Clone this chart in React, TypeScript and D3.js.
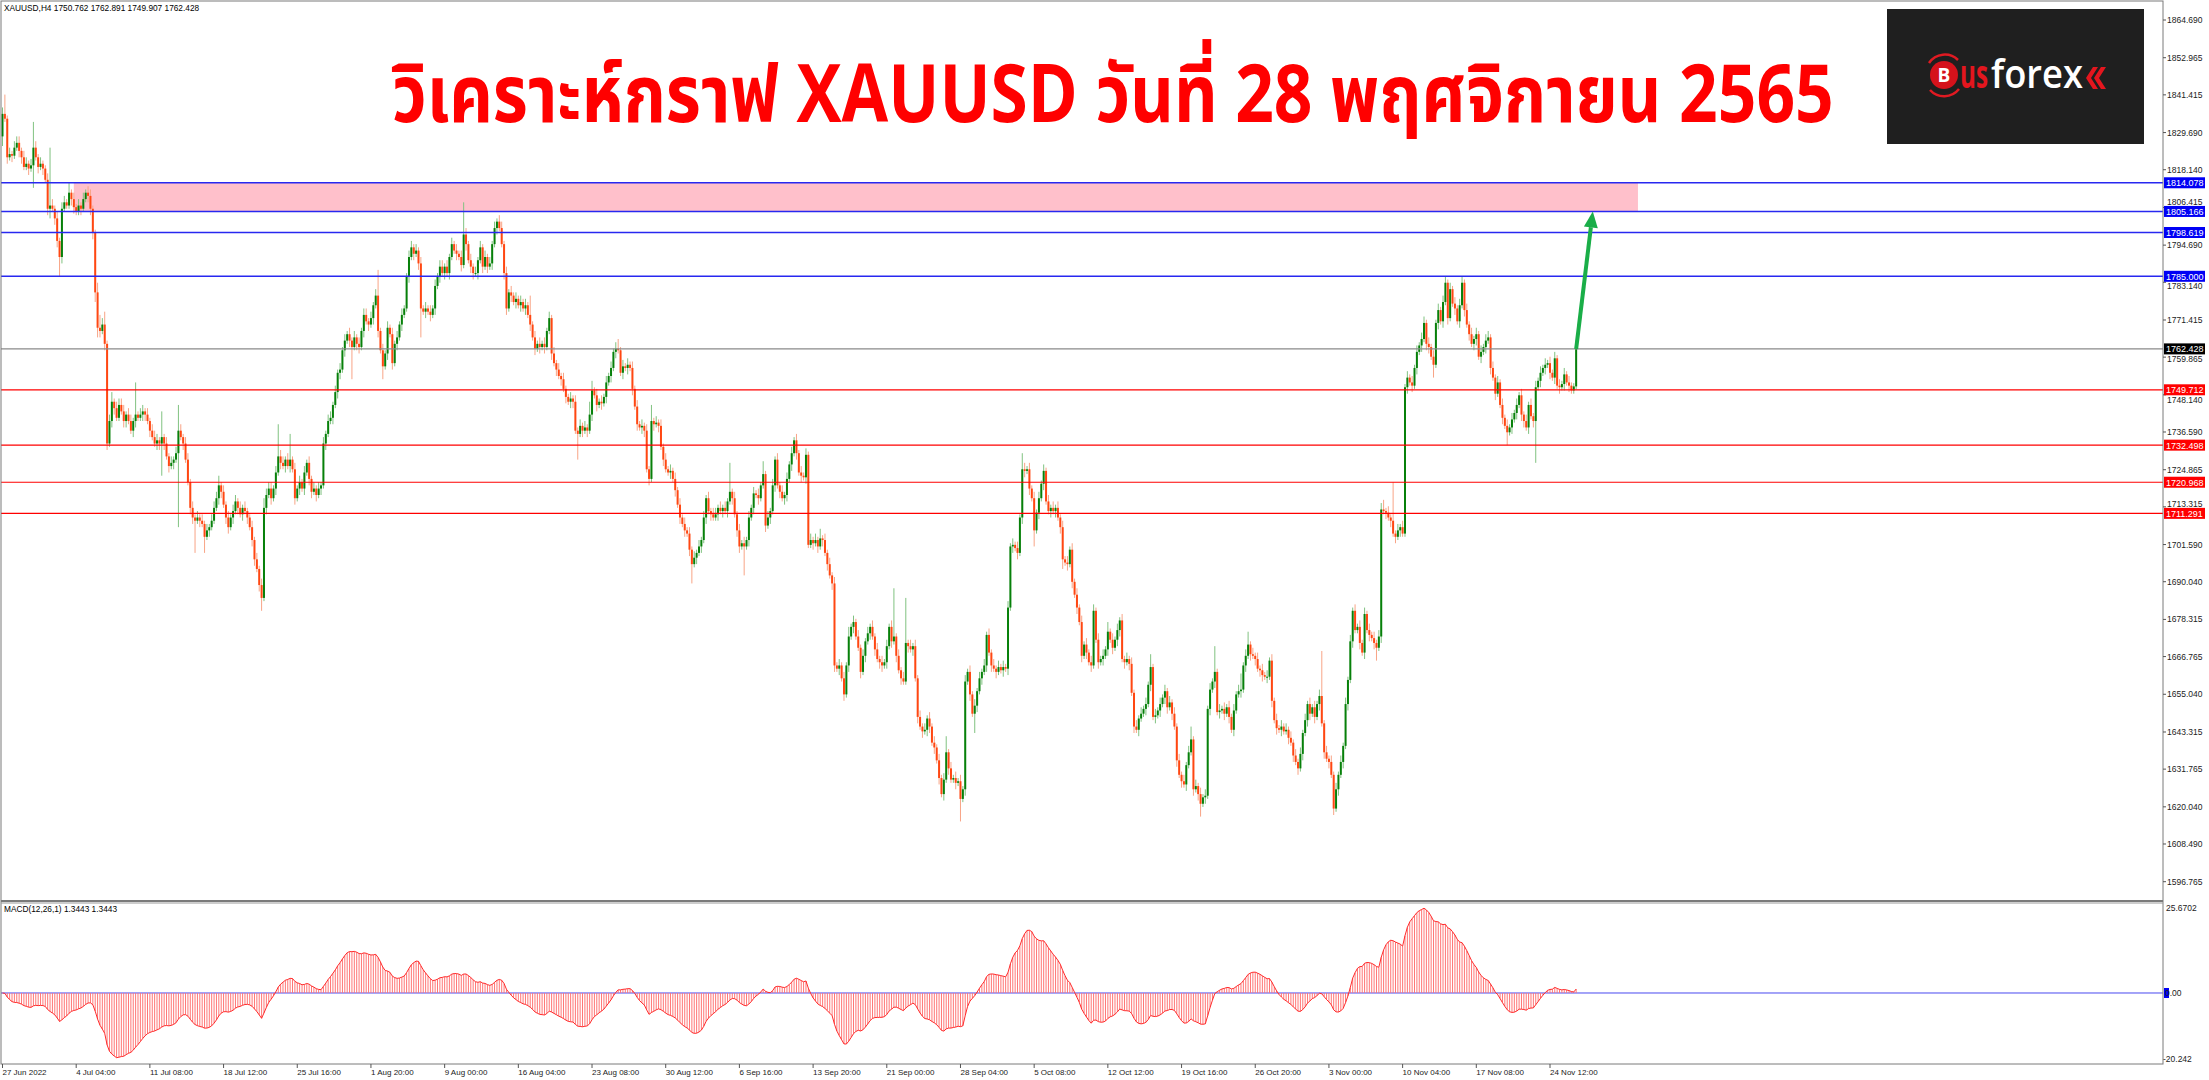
import React, { useMemo, useRef, useState, useLayoutEffect } from "react";
import * as d3 from "d3";

// ---------- DATA ----------
const symbolName = "XAUUSD,H4";
const firstOpen = 1828.5;
const closes = [
  1835.5, 1834, 1822, 1823, 1822.5, 1825, 1826.5, 1824, 1822, 1819,
  1820, 1818.5, 1819.5, 1825, 1822, 1819, 1820, 1818.5, 1815, 1806,
  1807, 1806, 1803, 1796, 1791, 1806, 1808, 1807, 1811, 1809,
  1806.5, 1805, 1807, 1806, 1809, 1811, 1810, 1806, 1798.5, 1780,
  1769, 1768, 1770, 1764, 1733, 1740, 1746, 1744, 1741, 1745,
  1743, 1740, 1742, 1740, 1737, 1740, 1742, 1741, 1742, 1743,
  1742, 1740, 1737, 1735, 1733, 1734, 1733, 1735, 1733, 1729,
  1726, 1727, 1728, 1730, 1737, 1735, 1733, 1728, 1721, 1713,
  1710, 1709, 1710, 1709, 1708, 1704, 1706, 1707, 1709, 1713,
  1716, 1720, 1718, 1714, 1710, 1707, 1710, 1712, 1715, 1713,
  1711, 1713, 1712, 1710, 1707, 1703, 1697, 1694, 1689, 1685,
  1713, 1717, 1719, 1716, 1719, 1724, 1729, 1727, 1726, 1728,
  1726, 1728, 1725, 1716, 1719, 1721, 1719, 1724, 1727, 1722,
  1718, 1719, 1717, 1719, 1720, 1733, 1736, 1740, 1741, 1745,
  1749, 1755, 1756, 1762, 1765, 1767, 1765, 1763, 1766, 1764,
  1763, 1768, 1773, 1771, 1770, 1772, 1776, 1779, 1768, 1762,
  1757, 1761, 1769, 1767, 1758, 1764, 1766, 1770, 1773, 1775,
  1785, 1791, 1794, 1792, 1793, 1789, 1775, 1774, 1775, 1774,
  1773, 1775, 1782, 1785, 1788, 1786, 1788, 1786, 1791, 1795,
  1793, 1792, 1791, 1788.5, 1798, 1795, 1790, 1788, 1786, 1786,
  1790, 1794, 1788, 1791, 1788, 1789, 1795, 1800, 1802, 1800,
  1795, 1786, 1775, 1780, 1779, 1777, 1778, 1776, 1777, 1775,
  1776, 1773, 1770, 1766, 1762.5, 1764, 1763, 1764, 1763, 1768,
  1772, 1761, 1758, 1756, 1754, 1753, 1750, 1747.5, 1746, 1747,
  1746, 1737, 1736, 1738.5, 1737, 1738, 1737, 1742, 1749.5, 1748,
  1745, 1746, 1745.5, 1747.5, 1752, 1754, 1756.5, 1761.5, 1762.5, 1762,
  1755, 1757, 1756.5, 1757.5, 1756.5, 1750, 1744.5, 1739, 1738, 1738.5,
  1737, 1725, 1722, 1740, 1739, 1739.5, 1738.5, 1732, 1728, 1725,
  1724, 1724.5, 1722, 1718.5, 1714, 1710, 1708, 1706, 1705, 1700,
  1695.5, 1697.5, 1699, 1701, 1703, 1710, 1716, 1712, 1711, 1710,
  1711, 1713, 1712, 1713, 1712, 1715, 1718, 1716, 1711, 1706,
  1701, 1702, 1701, 1703, 1710, 1713, 1717.5, 1717, 1716, 1720,
  1723.5, 1707.5, 1710, 1712, 1720, 1728, 1720, 1718, 1716, 1717,
  1722, 1726.5, 1730, 1734, 1730, 1724, 1723, 1722.5, 1729.5, 1701.5,
  1703, 1702, 1703, 1701, 1703.5, 1703, 1699, 1695.5, 1692, 1689.5,
  1664, 1663, 1664, 1660, 1655, 1664, 1673, 1676, 1677.5, 1673,
  1669.5, 1662, 1667, 1671.5, 1674, 1676, 1673, 1669, 1666, 1665,
  1664, 1665, 1670, 1676, 1671.5, 1673, 1667, 1662.5, 1660, 1659,
  1671, 1670, 1669, 1670, 1660, 1648, 1645, 1643.5, 1644, 1647.5,
  1645, 1640, 1638.5, 1634.5, 1629, 1624, 1628.5, 1637, 1632, 1628.5,
  1629, 1627.5, 1628, 1622.5, 1625.5, 1659, 1662, 1655, 1649, 1651.5,
  1656, 1660, 1662, 1664, 1673.5, 1668, 1664, 1663, 1662, 1663.5,
  1662.5, 1663.5, 1663, 1682, 1701, 1701.5, 1700.5, 1699, 1710, 1725,
  1724.5, 1725, 1719, 1716, 1706, 1711.5, 1716, 1720.5, 1724.5, 1715,
  1712, 1713, 1712, 1713, 1710, 1707, 1697, 1696, 1695.5, 1700,
  1690, 1686, 1682, 1677.5, 1667, 1670.5, 1668, 1665, 1664, 1681,
  1672, 1665, 1666, 1667, 1669, 1674.5, 1672, 1669.5, 1672, 1675,
  1678, 1666, 1665, 1666, 1664.5, 1655.5, 1645, 1644, 1647.5, 1649,
  1650.5, 1652, 1658, 1663.5, 1648, 1648.5, 1650, 1652, 1654, 1656,
  1651, 1652.5, 1649, 1645, 1634.5, 1630, 1628, 1627, 1633, 1637,
  1641, 1625.5, 1626.5, 1624, 1621, 1623, 1623.5, 1650.5, 1656.5, 1659,
  1662, 1649.5, 1650, 1650.5, 1649, 1651, 1648, 1644, 1650, 1655,
  1656, 1656.5, 1664, 1667, 1670.5, 1667.5, 1667, 1666, 1663, 1662.5,
  1661, 1660.5, 1660.5, 1665.5, 1653, 1647, 1644.5, 1644, 1645, 1643.5,
  1644, 1641.5, 1640, 1636, 1634, 1632, 1636.5, 1643, 1647, 1652,
  1649, 1651, 1648, 1652, 1654.5, 1646, 1637, 1635, 1634, 1630,
  1619.5, 1625.5, 1630, 1634, 1639, 1652, 1659.5, 1671.5, 1681, 1675,
  1676, 1671, 1668, 1680, 1675, 1673.5, 1672.5, 1671, 1669.5, 1673,
  1712.5, 1712, 1711.5, 1710, 1709, 1705, 1704, 1706, 1707, 1705,
  1750.5, 1753.5, 1752, 1751, 1756.5, 1761.5, 1763.5, 1765.5, 1770.5, 1764,
  1763, 1760, 1757.5, 1770.5, 1774.5, 1771, 1777, 1783, 1772, 1781,
  1776.5, 1775, 1771, 1776, 1783, 1774.5, 1770, 1767, 1764, 1765.5,
  1767, 1760, 1761.5, 1763, 1765, 1766, 1756.5, 1753.5, 1748.5, 1752,
  1745, 1741, 1738.5, 1736.5, 1738, 1740.5, 1742.5, 1745, 1748, 1742,
  1740, 1738, 1745, 1741.5, 1740, 1750.5, 1752.5, 1755, 1756.5, 1757.5,
  1758, 1755, 1753.5, 1759.5, 1751, 1750.5, 1751.5, 1754.5, 1752, 1751,
  1749.5, 1750.762, 1762.428,
];
const upperWicks = [
  2,6,1,2,1,2,2,2,1,2, 2,1,2,8,2,1,2,1,1,2, 18,2,1,2,1,2,2,1,3,1, 2,1,2,1,2,1,2,2,1,1,
  3,4,2,4,1,2,3,1,2,2, 2,2,1,2,2,1,10,1,2,2, 1,2,1,2,2,2,1,8,1,2, 1,2,1,2,8,2,1,2,2,1,
  2,1,2,1,2,1,2,1,2,2, 2,3,1,2,1,2,1,2,2,1, 2,1,2,1,1,2,1,2,1,2, 3,2,2,2,1,2,10,2,2,1,
  2,8,1,2,1,2,1,2,1,2, 1,2,1,2,1,2,1,2,2,1, 2,1,2,1,2,1,2,1,2,1, 2,1,2,2,1,2,1,2,8,1,
  2,1,2,1,2,1,2,1,2,1, 1,2,2,1,2,1,2,1,2,1, 2,1,2,1,2,2,1,2,1,2, 1,2,1,2,10,2,1,2,1,2,
  1,2,1,2,1,2,1,2,1,2, 2,1,2,1,2,1,2,1,2,1, 2,1,6,1,2,1,2,1,2,1, 2,1,2,1,2,1,2,1,1,2,
  1,2,1,2,1,2,1,4,3,1, 2,1,2,1,2,1,2,1,2,3, 1,2,1,2,1,2,1,2,1,2, 1,2,1,5,1,2,1,2,1,2,
  1,2,1,2,1,2,1,2,1,2, 1,2,1,2,1,2,1,2,1,2, 2,1,2,1,2,1,9,1,2,1, 2,1,2,1,2,1,2,1,2,1,
  4,1,2,1,2,1,2,1,2,1, 2,1,2,1,2,1,2,1,2,1, 2,1,2,1,3,1,2,1,2,1, 2,1,2,1,2,1,3,1,2,1,
  2,1,2,1,2,1,2,1,2,1, 2,1,2,1,2,15,1,2,1,2, 14,1,2,1,2,1,2,1,2,1, 2,1,2,1,2,1,2,5,1,2,
  1,2,1,2,1,2,1,2,1,2, 1,2,1,2,1,2,1,2,1,2, 1,2,1,2,1,2,1,2,1,5, 2,1,2,1,2,1,2,1,2,1,
  2,1,2,1,2,1,2,1,2,1, 2,1,2,1,2,1,2,1,2,2, 1,2,1,2,1,3,1,2,1,2, 1,2,1,2,1,2,1,2,1,2,
  1,2,1,4,1,2,1,2,1,2, 1,2,1,2,1,2,1,2,1,2, 4,1,2,1,2,1,2,1,2,1, 8,1,2,1,2,1,2,1,2,1,
  2,5,1,2,4,1,2,1,2,1, 2,1,2,1,2,1,2,1,2,1, 2,1,2,1,2,1,2,1,2,1, 2,1,2,1,2,14,1,2,1,2,
  1,2,1,2,1,2,1,2,1,2, 1,2,1,2,1,2,1,2,1,2, 2,3,1,2,1,12,1,2,1,2, 1,2,1,2,1,2,1,2,2,1,
  2,1,2,1,2,1,2,2,1,2, 1,2,1,2,2,1,2,1,2,1, 2,1,2,1,2,2,1,2,1,2, 1,2,1,2,1,2,1,2,1,2,
  1,2,1,2,1,2,1,2,1,2, 1,2,1,2,1,2,1,2,1,2, 1,1,0.463,
];
const lowerWicks = [
  3,1,2,1,2,1,1,2,2,1, 1,2,1,7,1,2,1,2,1,2, 3,1,2,2,6,2,1,1,1,2, 2,1,1,2,1,1,2,2,2,3,
  3,2,1,2,2,1,2,2,1,1, 1,2,2,1,1,2,2,1,1,2, 2,1,2,1,1,2,2,10,2,1, 2,1,2,1,23,1,2,1,1,2,
  2,10,1,2,1,5,1,2,1,1, 1,2,2,1,2,2,1,2,1,2, 1,2,1,2,1,2,2,1,2,4, 1,2,1,2,1,2,1,2,1,2,
  1,2,1,2,1,2,1,2,1,2, 2,1,2,1,2,1,2,1,1,2, 1,2,2,1,2,1,2,10,1,2, 2,1,2,1,2,1,2,1,2,1,
  4,1,2,1,2,1,2,1,2,1, 1,2,1,2,1,2,9,1,2,1, 2,1,2,1,2,1,2,1,2,1, 1,2,1,2,1,2,1,2,2,1,
  2,1,2,1,2,1,2,1,2,1, 1,2,2,1,2,1,2,1,2,1, 2,1,2,1,2,1,2,1,2,1, 1,2,1,2,1,2,1,2,1,2,
  2,1,8,1,2,1,2,1,2,1, 2,1,2,1,2,1,2,1,2,1, 1,2,1,2,1,2,1,2,1,2, 2,1,2,1,2,1,2,1,2,1,
  1,2,1,2,1,2,1,2,1,2, 6,1,2,1,2,1,2,1,2,1, 1,2,1,2,1,2,1,2,1,2, 2,1,9,1,2,1,2,1,2,1,
  1,2,1,2,1,2,1,2,1,2, 2,1,2,1,2,1,2,1,2,1, 1,2,1,2,1,2,1,2,1,2, 2,1,2,1,2,1,2,1,2,1,
  1,2,1,2,1,2,1,2,1,2, 2,1,2,1,2,1,2,1,2,1, 1,2,1,2,1,2,1,2,1,2, 2,1,2,1,2,1,2,1,2,1,
  1,2,1,7,1,2,1,2,1,6, 2,1,2,1,2,1,2,1,2,1, 1,2,1,2,1,2,1,2,1,2, 2,1,2,1,5,1,2,1,2,1,
  1,2,1,2,1,2,3,1,2,1, 2,1,2,1,2,1,2,1,2,1, 1,2,1,2,1,2,1,2,1,2, 2,1,2,1,2,1,2,1,2,1,
  1,2,1,2,1,2,1,2,1,2, 2,1,2,1,2,1,2,1,2,1, 1,2,1,2,4,1,2,1,2,1, 2,1,2,1,2,1,2,1,2,1,
  1,2,1,2,1,2,1,2,1,2, 2,1,2,1,2,1,2,1,2,1, 1,2,1,2,1,2,1,2,1,2, 2,1,2,1,2,1,2,1,2,1,
  2,1,2,1,2,1,2,1,2,1, 1,2,1,2,1,2,1,2,4,1, 2,1,2,1,2,1,2,1,2,1, 1,2,1,2,1,2,1,2,1,2,
  2,1,4,1,2,1,2,1,2,1, 1,2,1,2,1,2,1,2,1,2, 2,1,2,1,2,1,2,1,2,1, 1,2,1,4,1,2,1,2,1,2,
  2,1,2,1,2,13,1,2,1,2, 1,2,1,2,1,2,1,2,1,2, 1,1,0.855,
];

const timeLabels = [
  "27 Jun 2022", "4 Jul 04:00", "11 Jul 08:00", "18 Jul 12:00", "25 Jul 16:00",
  "1 Aug 20:00", "9 Aug 00:00", "16 Aug 04:00", "23 Aug 08:00", "30 Aug 12:00",
  "6 Sep 16:00", "13 Sep 20:00", "21 Sep 00:00", "28 Sep 04:00", "5 Oct 08:00",
  "12 Oct 12:00", "19 Oct 16:00", "26 Oct 20:00", "3 Nov 00:00", "10 Nov 04:00",
  "17 Nov 08:00", "24 Nov 12:00",
];
const barsPerTimeLabel = 31;

const priceTicks = [
  1864.690, 1852.965, 1841.415, 1829.690, 1818.140, 1806.415, 1794.690, 1783.140,
  1771.415, 1759.865, 1748.140, 1736.590, 1724.865, 1713.315, 1701.590, 1690.040,
  1678.315, 1666.765, 1655.040, 1643.315, 1631.765, 1620.040, 1608.490, 1596.765,
];
const blueLevels = [1814.078, 1805.166, 1798.619, 1785.0];
const redLevels = [1749.712, 1732.498, 1720.968, 1711.291];
const bidLevel = 1762.428;
const zoneLow = 1805.166;
const zoneHigh = 1814.078;
const zoneStartBar = 30;
const zoneEndBar = 688;
const arrowEndBar = 669;
const arrowEndPrice = 1805.166;
const macdTop = 25.6702;
const macdBottom = -20.242;
const macdLabel = "MACD(12,26,1) 1.3443 1.3443";
const titleText = "วิเคราะห์กราฟ XAUUSD วันที่ 28 พฤศจิกายน 2565";

// ---------- helpers ----------
function ema(values: number[], n: number) {
  const k = 2 / (n + 1);
  const out: number[] = [];
  let prev = values[0];
  values.forEach((v, i) => {
    prev = i === 0 ? v : v * k + prev * (1 - k);
    out.push(prev);
  });
  return out;
}

// Text squeezed horizontally (via transform) to a target width.
function FitText(props: any) {
  const { x, y, width, children, ...rest } = props;
  const ref = useRef<SVGTextElement>(null);
  const [s, setS] = useState(1);
  useLayoutEffect(() => {
    const el = ref.current;
    if (el) {
      const len = el.getComputedTextLength();
      if (len > 0) setS(width / len);
    }
  }, [width]);
  return (
    <text ref={ref} x={x} y={y} transform={`translate(${x * (1 - s)},0) scale(${s},1)`} {...rest}>
      {children}
    </text>
  );
}

const AXIS_FONT = "'Liberation Sans', Arial, sans-serif";

export default function App() {
  const W = 2209;
  const H = 1080;
  const plotRight = 2163;
  const plotLeft = 1;
  const priceBottom = 901;
  const macdTopY = 903;
  const macdBottomY = 1064;

  const x = d3.scaleLinear().domain([0, 651]).range([2.5, 1550]);
  const y = d3.scaleLinear().domain([1596.765, 1864.69]).range([881.7, 20]);
  const ym = d3.scaleLinear().domain([macdBottom, macdTop]).range([1063, 904.2]);

  const candles = useMemo(
    () =>
      closes.map((c, i) => {
        const o = i === 0 ? firstOpen : closes[i - 1];
        const hi = Math.max(o, c) + upperWicks[i];
        const lo = Math.min(o, c) - lowerWicks[i];
        return { i, o, c, hi, lo };
      }),
    []
  );

  const macd = useMemo(() => {
    const e12 = ema(closes, 12);
    const e26 = ema(closes, 26);
    return e12.map((v, i) => v - e26[i]);
  }, []);

  const last = candles[candles.length - 1];
  const header = `${symbolName}  ${last.o.toFixed(3)} ${last.hi.toFixed(3)} ${last.lo.toFixed(3)} ${last.c.toFixed(3)}`;

  const macdLine = d3
    .line<number>()
    .x((_, i) => x(i))
    .y((v) => ym(v))(macd) as string;

  const ax0 = x(last.i);
  const ay0 = y(last.c);
  const ax1 = x(arrowEndBar);
  const ay1 = y(arrowEndPrice);
  const ang = Math.atan2(ay1 - ay0, ax1 - ax0);
  const headLen = 16;
  const headW = 7;
  const bx = ax1 - headLen * Math.cos(ang);
  const by = ay1 - headLen * Math.sin(ang);
  const px = -Math.sin(ang);
  const py = Math.cos(ang);

  // level label boxes occupy +-5.5px around their level; tick texts are ~8px tall
  const boxHalf = 5.5;
  const textHalf = 4.3;
  const levelYs = [...blueLevels, ...redLevels, bidLevel].map((v) => y(v));
  const tickTextY = (v: number) => {
    let cy = y(v);
    levelYs.forEach((ly) => {
      if (Math.abs(cy - ly) < boxHalf + textHalf) {
        cy = cy < ly ? ly - boxHalf - textHalf : ly + boxHalf + textHalf;
      }
    });
    return cy;
  };

  const levelLabel = (v: number, bg: string, key: string) => (
    <g key={key}>
      <rect x={2164} y={y(v) - boxHalf} width={41} height={boxHalf * 2} fill={bg} />
      <text x={2166} y={y(v) + 3.5} fontSize={9} fontFamily={AXIS_FONT} fill="#ffffff">
        {v.toFixed(3)}
      </text>
    </g>
  );

  return (
    <svg width={W} height={H} style={{ position: "absolute", left: 0, top: 0, background: "#fff" }}>
      <rect x={0} y={0} width={W} height={H} fill="#ffffff" />

      {/* supply zone */}
      <rect
        x={x(zoneStartBar)}
        y={y(zoneHigh)}
        width={x(zoneEndBar) - x(zoneStartBar)}
        height={y(zoneLow) - y(zoneHigh)}
        fill="#FFC0CB"
      />

      {/* candles */}
      <g>
        {candles.map((d) => {
          const up = d.c >= d.o;
          const cx = x(d.i);
          const top = y(Math.max(d.o, d.c));
          const bot = y(Math.min(d.o, d.c));
          return (
            <g key={d.i}>
              <line x1={cx} x2={cx} y1={y(d.hi)} y2={y(d.lo)} stroke={up ? "#80C280" : "#F8A486"} strokeWidth={1} />
              <rect x={cx - 1} y={top} width={2} height={Math.max(1, bot - top)} fill={up ? "#07800A" : "#FF4712"} />
            </g>
          );
        })}
      </g>

      {/* horizontal levels */}
      {blueLevels.map((v) => (
        <line key={"b" + v} x1={plotLeft} x2={plotRight} y1={y(v)} y2={y(v)} stroke="#2828F0" strokeWidth={1.6} />
      ))}
      {redLevels.map((v) => (
        <line key={"r" + v} x1={plotLeft} x2={plotRight} y1={y(v)} y2={y(v)} stroke="#FF0000" strokeWidth={1.2} />
      ))}
      <line x1={plotLeft} x2={plotRight} y1={y(bidLevel)} y2={y(bidLevel)} stroke="#8A8A8A" strokeWidth={1.2} />

      {/* arrow */}
      <line x1={ax0} y1={ay0} x2={bx} y2={by} stroke="#1AAE48" strokeWidth={4} />
      <polygon
        points={`${ax1},${ay1} ${bx + px * headW},${by + py * headW} ${bx - px * headW},${by - py * headW}`}
        fill="#1AAE48"
      />

      {/* title */}
      <FitText
        x={392}
        y={122}
        width={1442}
        fontSize={80}
        fontWeight="bold"
        fill="#FF0000"
        fontFamily="'Noto Sans Thai', 'Noto Sans', 'DejaVu Sans', sans-serif"
      >
        {titleText}
      </FitText>

      {/* logo */}
      <g>
        <rect x={1887} y={9} width={257} height={135} fill="#1F1F1F" />
        <path d="M 1929 63 A 19 19 0 0 1 1958 60" fill="none" stroke="#E01A22" strokeWidth={2.5} />
        <path d="M 1930 90 A 19 19 0 0 0 1959 89" fill="none" stroke="#E01A22" strokeWidth={2.5} />
        <circle cx={1944} cy={75} r={14} fill="#D5121B" />
        <text x={1944} y={82} textAnchor="middle" fontSize={19} fontWeight="bold" fill="#ffffff" fontFamily="'Open Sans', sans-serif">B</text>
        <FitText x={1960} y={88} width={28} fontSize={40} fontWeight="bold" fill="#E4161E" fontFamily="'Open Sans', sans-serif">us</FitText>
        <FitText x={1991} y={88} width={92} fontSize={40} fontWeight={600} fill="#ffffff" fontFamily="'Open Sans', sans-serif">forex</FitText>
        <polygon points="2093,67 2086,78 2093,89 2098,89 2091,78 2098,67" fill="#E4161E" />
        <polygon points="2101,67 2094,78 2101,89 2106,89 2099,78 2106,67" fill="#E4161E" />
      </g>

      {/* MACD */}
      <line x1={plotLeft} x2={plotRight} y1={ym(0)} y2={ym(0)} stroke="#4848F0" strokeWidth={1} />
      <g>
        {macd.map((v, i) => (
          <line key={i} x1={x(i)} x2={x(i)} y1={ym(0)} y2={ym(v)} stroke="#FF7676" strokeWidth={1} />
        ))}
      </g>
      <path d={macdLine} fill="none" stroke="#FF2A2A" strokeWidth={1} />

      {/* frame */}
      <rect x={plotLeft} y={1} width={plotRight - plotLeft} height={macdBottomY - 1} fill="none" stroke="#7A7A7A" strokeWidth={1} />
      <line x1={plotLeft} x2={plotRight} y1={priceBottom} y2={priceBottom} stroke="#7A7A7A" strokeWidth={2} />
      <line x1={plotLeft} x2={plotRight} y1={macdTopY} y2={macdTopY} stroke="#9A9A9A" strokeWidth={1} />

      {/* header texts */}
      <text x={4} y={11} fontSize={8.3} fontFamily={AXIS_FONT} fill="#000">{header}</text>
      <text x={4} y={912} fontSize={8.3} fontFamily={AXIS_FONT} fill="#000">{macdLabel}</text>

      {/* price axis */}
      {priceTicks.map((v) => (
        <g key={"t" + v}>
          <line x1={plotRight} x2={plotRight + 3} y1={y(v)} y2={y(v)} stroke="#555" />
          <text x={2167} y={tickTextY(v) + 3} fontSize={8.5} fontFamily={AXIS_FONT} fill="#222">
            {v.toFixed(3)}
          </text>
        </g>
      ))}
      {blueLevels.map((v) => levelLabel(v, "#0000F5", "lb" + v))}
      {redLevels.map((v) => levelLabel(v, "#FF0000", "lr" + v))}
      {levelLabel(bidLevel, "#000000", "lbid")}

      {/* macd axis */}
      <text x={2166} y={911} fontSize={8.5} fontFamily={AXIS_FONT} fill="#222">{macdTop.toFixed(4)}</text>
      <rect x={2164} y={ym(0) - 5} width={5} height={10} fill="#0000F5" />
      <text x={2165} y={ym(0) + 3} fontSize={8.5} fontFamily={AXIS_FONT} fill="#222">0.00</text>
      <text x={2163} y={1062} fontSize={8.5} fontFamily={AXIS_FONT} fill="#222">{macdBottom.toFixed(3)}</text>

      {/* time axis */}
      {timeLabels.map((t, k) => {
        const tx = x(k * barsPerTimeLabel);
        return (
          <g key={t}>
            <line x1={tx} x2={tx} y1={macdBottomY} y2={macdBottomY + 4} stroke="#555" />
            <text x={tx} y={1075} fontSize={8} fontFamily={AXIS_FONT} fill="#222">{t}</text>
          </g>
        );
      })}
    </svg>
  );
}
